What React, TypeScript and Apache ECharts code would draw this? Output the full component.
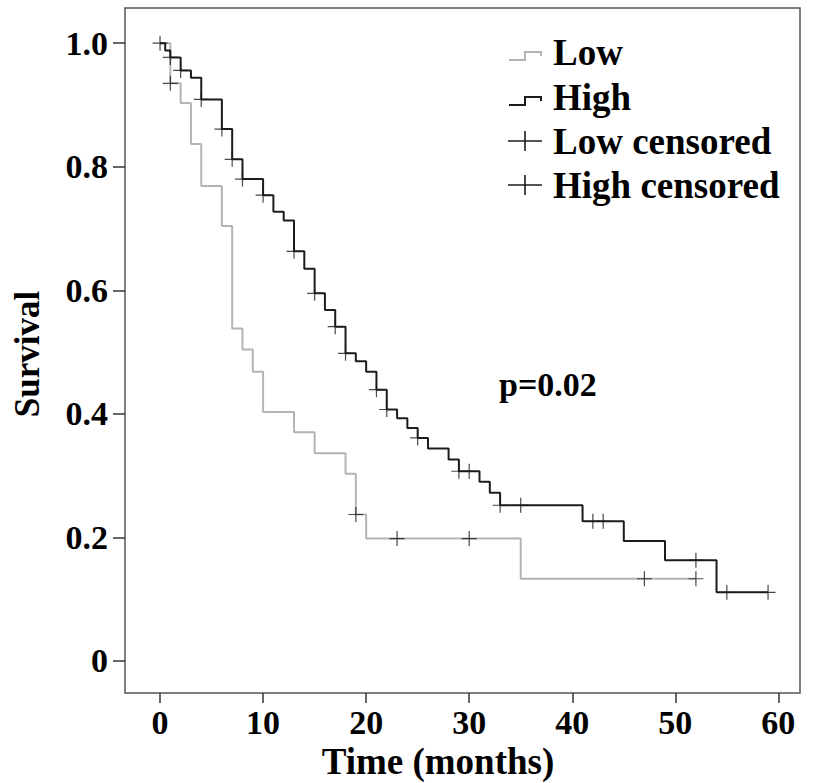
import React, { useEffect, useRef } from "react";
import * as echarts from "echarts";

// Kaplan-Meier steps: [time (months), survival]
const lowCurve: number[][] = [
  [0, 1.0], [1, 0.935], [2, 0.903], [3, 0.837], [4, 0.769], [6, 0.704], [7, 0.538],
  [8, 0.504], [9, 0.468], [10, 0.403], [13, 0.37], [15, 0.336], [18, 0.303], [19, 0.237],
  [20, 0.198], [35, 0.133], [52, 0.133],
];
const highCurve: number[][] = [
  [0, 1.0], [0.5, 0.988], [1, 0.977], [2, 0.956], [3, 0.944], [4, 0.909], [6, 0.861],
  [7, 0.812], [8, 0.78], [10, 0.754], [11, 0.727], [12, 0.713], [13, 0.663], [14, 0.635],
  [15, 0.595], [16, 0.568], [17, 0.541], [18, 0.498], [19, 0.485], [20, 0.468], [21, 0.439],
  [22, 0.407], [23, 0.393], [24, 0.377], [25, 0.361], [26, 0.344], [28, 0.326], [29, 0.307],
  [31, 0.29], [32, 0.272], [33, 0.252], [41, 0.226], [45, 0.194], [49, 0.163], [54, 0.111],
  [59, 0.111],
];
const lowCensored: number[][] = [
  [1, 0.935], [19, 0.237], [23, 0.198], [30, 0.198], [47, 0.133], [52, 0.133],
];
const highCensored: number[][] = [
  [0, 1.0], [1, 0.977], [2, 0.956], [4, 0.909], [6, 0.861], [7, 0.812], [8, 0.78],
  [10, 0.754], [13, 0.663], [15, 0.595], [17, 0.541], [18, 0.498], [21, 0.439], [22, 0.407],
  [25, 0.361], [29, 0.307], [30, 0.307], [33, 0.252], [35, 0.252], [42, 0.226], [43, 0.226],
  [52, 0.163], [55, 0.111], [59, 0.111],
];
const xTicks = [0, 10, 20, 30, 40, 50, 60];
const yTicks = [0, 0.2, 0.4, 0.6, 0.8, 1.0];
const legendLabels = ["Low", "High", "Low censored", "High censored"];
const xAxisTitle = "Time (months)";
const yAxisTitle = "Survival";
const pValueText = "p=0.02";

const FONT = "'Liberation Serif', 'Times New Roman', serif";
const LOW_COLOR = "#b4b4b4";
const HIGH_COLOR = "#1c1c1c";
const PLUS =
  "path://M9.2,0 H10.8 V9.2 H20 V10.8 H10.8 V20 H9.2 V10.8 H0 V9.2 H9.2 Z";

export default function App() {
  const ref = useRef<HTMLDivElement>(null);
  useEffect(() => {
    if (!ref.current) return;
    const chart = echarts.init(ref.current, undefined, { renderer: "svg" });
    const legendRowsY = [52, 97, 141, 185];
    const graphics: any[] = [];
    legendLabels.forEach((label, i) => {
      const y = legendRowsY[i];
      if (i < 2) {
        graphics.push({
          type: "polyline",
          shape: {
            points: [
              [509, y + 8], [525, y + 8], [525, y], [541, y], [541, y + 4],
            ],
          },
          style: { stroke: i === 0 ? LOW_COLOR : HIGH_COLOR, lineWidth: 2, fill: "none" },
        });
      } else {
        graphics.push({
          type: "line",
          shape: { x1: 508, y1: y, x2: 542, y2: y },
          style: { stroke: HIGH_COLOR, lineWidth: 1.6 },
        });
        graphics.push({
          type: "line",
          shape: { x1: 525, y1: y - 10, x2: 525, y2: y + 10 },
          style: { stroke: HIGH_COLOR, lineWidth: 1.6 },
        });
      }
      graphics.push({
        type: "text",
        x: 553,
        y,
        style: {
          text: label,
          font: `bold 37px ${FONT}`,
          fill: "#000",
          verticalAlign: "middle",
          align: "left",
        },
      });
    });
    graphics.push({
      type: "text",
      x: 499,
      y: 384,
      style: {
        text: pValueText,
        font: `bold 34px ${FONT}`,
        fill: "#000",
        verticalAlign: "middle",
        align: "left",
      },
    });
    graphics.push({
      type: "text",
      x: 438,
      y: 761,
      style: {
        text: xAxisTitle,
        font: `bold 37px ${FONT}`,
        fill: "#000",
        verticalAlign: "middle",
        align: "center",
      },
    });
    graphics.push({
      type: "text",
      x: 27,
      y: 354,
      rotation: Math.PI / 2,
      style: {
        text: yAxisTitle,
        font: `bold 35px ${FONT}`,
        fill: "#000",
        verticalAlign: "middle",
        align: "center",
      },
    });

    chart.setOption({
      animation: false,
      backgroundColor: "#fff",
      textStyle: { fontFamily: FONT },
      grid: {
        left: 125,
        right: 13,
        top: 8,
        bottom: 90,
        containLabel: false,
        outerBoundsMode: "none",
        show: true,
        borderColor: "#555",
        borderWidth: 1.5,
        backgroundColor: "transparent",
      },
      xAxis: {
        type: "value",
        min: -3.4,
        max: 62.1,
        axisLine: { show: false, onZero: false },
        axisTick: { show: true, inside: false, length: 10, customValues: xTicks, lineStyle: { color: "#333", width: 1.5 } },
        axisLabel: {
          customValues: xTicks,
          fontSize: 34,
          fontWeight: "bold",
          color: "#000",
          margin: 12,
          fontFamily: FONT,
        },
        splitLine: { show: false },
      },
      yAxis: {
        type: "value",
        min: -0.052,
        max: 1.057,
        axisLine: { show: false, onZero: false },
        axisTick: { show: true, inside: false, length: 12, customValues: yTicks, lineStyle: { color: "#333", width: 1.5 } },
        axisLabel: {
          customValues: yTicks,
          formatter: (v: number) => (v === 0 ? "0" : v.toFixed(1)),
          fontSize: 34,
          fontWeight: "bold",
          color: "#000",
          margin: 17,
          fontFamily: FONT,
        },
        splitLine: { show: false },
      },
      series: [
        {
          name: "Low",
          type: "line",
          step: "end",
          data: lowCurve,
          showSymbol: false,
          lineStyle: { color: LOW_COLOR, width: 2 },
          z: 2,
        },
        {
          name: "High",
          type: "line",
          step: "end",
          data: highCurve,
          showSymbol: false,
          lineStyle: { color: HIGH_COLOR, width: 2 },
          z: 3,
        },
        {
          name: "Low censored",
          type: "scatter",
          data: lowCensored,
          symbol: PLUS,
          symbolSize: 15,
          itemStyle: { color: HIGH_COLOR },
          z: 4,
        },
        {
          name: "High censored",
          type: "scatter",
          data: highCensored,
          symbol: PLUS,
          symbolSize: 15,
          itemStyle: { color: HIGH_COLOR },
          z: 4,
        },
      ],
      graphic: graphics,
    });
    return () => chart.dispose();
  }, []);
  return (
    <div
      ref={ref}
      style={{ position: "fixed", left: 0, top: 0, width: 813, height: 783, background: "#fff" }}
    />
  );
}
